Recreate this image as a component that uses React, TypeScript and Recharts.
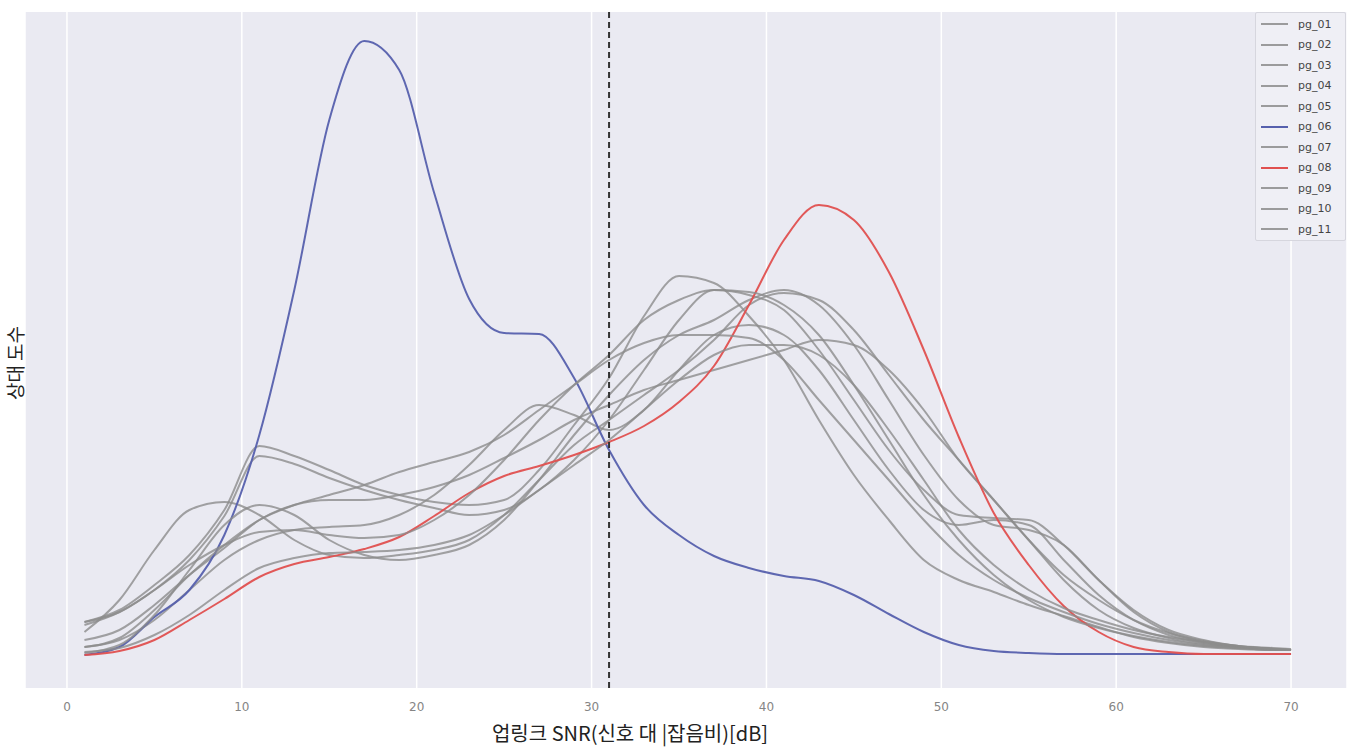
import { LineChart, Line, XAxis, YAxis, CartesianGrid, ReferenceLine } from 'recharts';

// SNR bins (dB)
const SNR = [1, 3, 5, 7, 9, 11, 13, 15, 17, 19, 21, 23, 25, 27, 29, 31, 33, 35, 37, 39, 41, 43, 45, 47, 49, 51, 53, 55, 57, 59, 61, 63, 65, 67, 69, 70];

// relative frequency per group (arbitrary units)
const pg_01 = [66, 78, 103, 133, 178, 242, 232, 218, 203, 193, 186, 183, 188, 218, 263, 310, 372, 412, 405, 372, 328, 268, 213, 168, 128, 108, 96, 83, 72, 61, 51, 45, 41, 39, 38, 38];
const pg_02 = [63, 76, 98, 128, 172, 232, 224, 210, 198, 188, 180, 173, 178, 198, 228, 268, 318, 368, 398, 393, 378, 338, 288, 238, 198, 173, 170, 168, 143, 108, 78, 58, 48, 42, 39, 38];
const pg_03 = [56, 88, 138, 178, 186, 173, 148, 133, 130, 133, 138, 148, 173, 208, 243, 268, 293, 318, 348, 383, 395, 388, 358, 313, 268, 228, 188, 148, 113, 88, 68, 55, 47, 42, 40, 39];
const pg_04 = [48, 58, 83, 113, 140, 168, 183, 188, 188, 193, 201, 213, 230, 248, 268, 283, 298, 308, 318, 328, 338, 348, 343, 318, 278, 228, 188, 148, 108, 78, 60, 50, 44, 41, 39, 38];
const pg_05 = [41, 48, 68, 98, 128, 148, 158, 161, 163, 173, 193, 223, 258, 283, 273, 258, 278, 318, 353, 363, 353, 318, 268, 218, 178, 163, 168, 163, 128, 93, 68, 53, 45, 41, 39, 38];
const pg_06 = [33, 41, 71, 98, 153, 253, 398, 568, 647, 618, 495, 389, 355, 354, 310, 238, 183, 153, 132, 120, 112, 107, 93, 74, 56, 43, 37, 35, 34, 34, 34, 34, 34, 34, 34, 34];
const pg_07 = [35, 43, 73, 118, 163, 183, 173, 148, 133, 128, 133, 143, 168, 208, 253, 293, 328, 353, 368, 388, 398, 383, 343, 288, 233, 188, 163, 158, 143, 108, 76, 56, 46, 41, 39, 38];
const pg_08 = [33, 37, 48, 68, 89, 111, 124, 131, 139, 151, 172, 195, 212, 222, 233, 246, 262, 286, 322, 383, 448, 483, 468, 416, 338, 251, 175, 123, 82, 56, 41, 36, 34, 34, 34, 34];
const pg_09 = [66, 76, 98, 123, 143, 156, 158, 153, 150, 153, 168, 193, 228, 268, 303, 333, 368, 388, 398, 396, 383, 353, 303, 248, 193, 148, 113, 88, 71, 60, 52, 46, 42, 40, 38, 38];
const pg_10 = [41, 50, 78, 113, 143, 168, 183, 193, 203, 216, 226, 236, 253, 278, 303, 328, 345, 353, 353, 350, 328, 288, 248, 208, 168, 133, 108, 90, 76, 64, 55, 48, 43, 40, 38, 38];
const pg_11 = [36, 40, 53, 73, 98, 120, 130, 135, 136, 138, 143, 153, 173, 198, 223, 248, 278, 308, 333, 343, 343, 333, 303, 258, 208, 158, 123, 98, 80, 68, 58, 51, 46, 42, 39, 38];

const X_TICKS = [0, 10, 20, 30, 40, 50, 60, 70];
const CUTOFF = 31;

const GREY = '#8c8c8c';
const SERIES = [
  { key: 'pg_01', values: pg_01, color: GREY },
  { key: 'pg_02', values: pg_02, color: GREY },
  { key: 'pg_03', values: pg_03, color: GREY },
  { key: 'pg_04', values: pg_04, color: GREY },
  { key: 'pg_05', values: pg_05, color: GREY },
  { key: 'pg_06', values: pg_06, color: '#5660ad' },
  { key: 'pg_07', values: pg_07, color: GREY },
  { key: 'pg_08', values: pg_08, color: '#e0504f' },
  { key: 'pg_09', values: pg_09, color: GREY },
  { key: 'pg_10', values: pg_10, color: GREY },
  { key: 'pg_11', values: pg_11, color: GREY },
];

const data = SNR.map((x, i) => {
  const row: Record<string, number> = { x };
  SERIES.forEach((s) => { row[s.key] = s.values[i]; });
  return row;
});

const korean = '"Noto Sans CJK KR", "Noto Sans", sans-serif';

export default function App() {
  return (
    <div style={{ position: 'absolute', left: 0, top: 0, width: 1357, height: 747, background: '#fff', fontFamily: korean }}>
      <LineChart width={1357} height={747} data={data} margin={{ top: 12, right: 10, left: 25, bottom: 29 }}>
        <CartesianGrid horizontal={false} stroke="#ffffff" strokeWidth={1.5} fill="#eaeaf2" />
        <XAxis
          dataKey="x"
          type="number"
          domain={[-2.4, 73.2]}
          ticks={X_TICKS}
          axisLine={false}
          tickLine={false}
          height={30}
          tickMargin={8}
          tick={{ fontSize: 12, fill: '#858585', fontFamily: '"DejaVu Sans", sans-serif' }}
        />
        <YAxis hide domain={[0, 676]} />
        {SERIES.map((s) => (
          <Line
            key={s.key}
            dataKey={s.key}
            type="monotone"
            stroke={s.color}
            strokeOpacity={s.color === GREY ? 0.8 : 0.95}
            strokeWidth={2}
            dot={false}
            isAnimationActive={false}
          />
        ))}
        <ReferenceLine x={CUTOFF} stroke="#333" strokeWidth={2} strokeDasharray="6 4" />
      </LineChart>

      <div style={{ position: 'absolute', left: 1255, top: 12, width: 89, height: 227, background: '#efeff5', border: '1px solid #d6d6de', borderRadius: 2 }}>
        {SERIES.map((s, i) => (
          <div key={s.key} style={{ position: 'absolute', left: 5, top: 4 + i * 20.5, height: 14, display: 'flex', alignItems: 'center' }}>
            <div style={{ width: 27, height: 2, background: s.color, opacity: s.color === GREY ? 0.85 : 1 }} />
            <span style={{ marginLeft: 10, fontSize: 11, color: '#444', fontFamily: '"DejaVu Sans", sans-serif' }}>{s.key}</span>
          </div>
        ))}
      </div>

      <div style={{ position: 'absolute', left: 14, top: 363, transform: 'translate(-50%, -50%) rotate(-90deg)', fontSize: 19, lineHeight: 1, color: '#222', whiteSpace: 'nowrap' }}>
        상대 도수
      </div>
      <div style={{ position: 'absolute', left: 630, top: 733, transform: 'translate(-50%, -50%)', fontSize: 20, lineHeight: 1, color: '#222', whiteSpace: 'nowrap' }}>
        업링크 SNR(신호 대 |잡음비)[dB]
      </div>
    </div>
  );
}
